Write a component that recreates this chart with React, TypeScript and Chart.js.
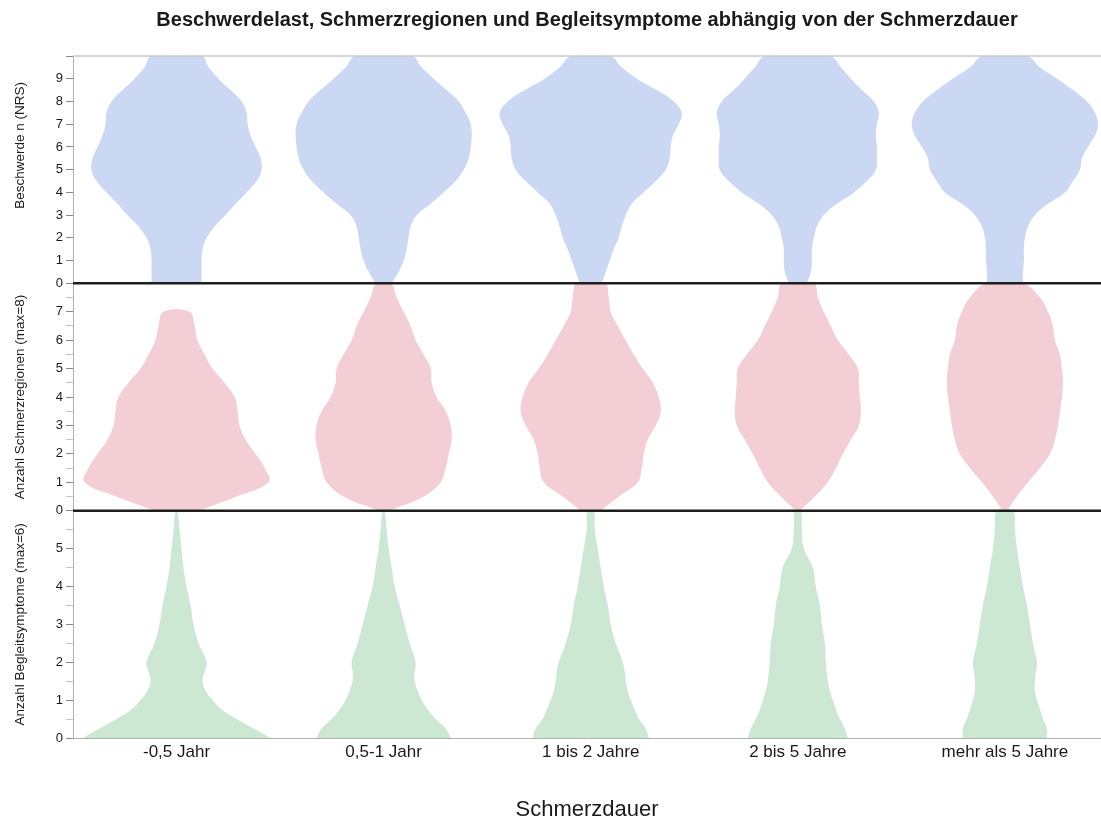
import React, { useEffect, useRef } from 'react';
import { Chart, registerables } from 'chart.js';

Chart.register(...registerables);

// ---------- data ----------
const CATEGORIES = ['-0,5 Jahr', '0,5-1 Jahr', '1 bis 2 Jahre', '2 bis 5 Jahre', 'mehr als 5 Jahre'];

const CHART_TITLE = 'Beschwerdelast, Schmerzregionen und Begleitsymptome abhängig von der Schmerzdauer';
const X_TITLE = 'Schmerzdauer';
const Y_TITLES = ['Beschwerde n (NRS)', 'Anzahl Schmerzregionen (max=8)', 'Anzahl Begleitsymptome (max=6)'];

// Panel 1: Beschwerden (NRS 0-10)
const NRS_LEVELS = [0, 0.5, 1, 1.5, 2, 2.5, 3, 3.5, 4, 4.5, 5, 5.5, 6, 6.5, 7, 7.5, 8, 8.5, 9, 9.5, 10];
const NRS_DENSITY_1 = [25, 25, 25, 26, 30, 38, 49, 59, 70, 80, 85, 84, 79, 74, 71, 70, 65, 54, 42, 32, 25];
const NRS_DENSITY_2 = [8, 15, 20, 23, 25, 27, 33, 47, 60, 72, 80, 85, 87, 88, 87, 82, 75, 63, 50, 38, 28];
const NRS_DENSITY_3 = [11, 15, 19, 23, 28, 31, 35, 41, 53, 65, 75, 79, 80, 82, 88, 91, 83, 66, 46, 31, 19];
const NRS_DENSITY_4 = [9, 13, 14, 14, 16, 19, 26, 39, 56, 69, 78, 79, 79, 78, 79, 81, 76, 64, 53, 43, 32];
const NRS_DENSITY_5 = [18, 18, 19, 19, 20, 23, 30, 43, 60, 68, 75, 77, 83, 90, 93, 90, 82, 68, 52, 35, 22];

// Panel 2: Anzahl Schmerzregionen (0-8)
const REG_LEVELS = [0, 0.5, 1, 1.5, 2, 2.5, 3, 3.5, 4, 4.5, 5, 5.5, 6, 6.5, 7, 7.5, 8];
const REG_DENSITY_1 = [22, 60, 92, 88, 79, 69, 63, 61, 58, 48, 36, 28, 21, 18, 13, null, null];
const REG_DENSITY_2 = [5, 40, 57, 62, 65, 68, 67, 62, 53, 48, 47, 40, 32, 27, 20, 13, 7];
const REG_DENSITY_3 = [10, 28, 47, 51, 53, 57, 65, 70, 68, 62, 52, 43, 35, 27, 20, 18, 14];
const REG_DENSITY_4 = [2, 17, 30, 38, 45, 53, 61, 63, 62, 61, 60, 51, 40, 33, 26, 20, 16];
const REG_DENSITY_5 = [2, 12, 23, 35, 45, 50, 53, 55, 57, 58, 57, 55, 50, 48, 43, 35, 18];

// Panel 3: Anzahl Begleitsymptome (0-6)
const SYM_LEVELS = [0, 0.25, 0.5, 0.75, 1, 1.25, 1.5, 1.75, 2, 2.5, 3, 3.5, 4, 4.5, 5, 5.5, 6];
const SYM_DENSITY_1 = [94, 77, 60, 45, 36, 29, 26, 28, 30, 22, 17, 14, 10, 7, 5, 3, 1];
const SYM_DENSITY_2 = [67, 62, 52, 44, 38, 34, 31, 31, 32, 26, 21, 16, 11, 8, 5, 3, 1];
const SYM_DENSITY_3 = [58, 55, 48, 44, 40, 37, 35, 34, 32, 25, 20, 17, 13, 10, 7, 4, 3];
const SYM_DENSITY_4 = [50, 47, 42, 38, 35, 32, 30, 29, 28, 27, 24, 22, 18, 15, 6, 4, 3];
const SYM_DENSITY_5 = [42, 42, 38, 35, 32, 30, 30, 31, 32, 28, 25, 22, 18, 15, 12, 10, 8];

// density units that correspond to one category step
const DENSITY_PER_CATEGORY = 207;

// ---------- styling ----------
const FONT = '"Liberation Sans", Arial, Helvetica, sans-serif';
const TEXT = '#1a1a1a';
const X_MIN = -0.5;
const X_MAX = 4.464;

const PANELS = [
  { id: 'y1', max: 10, step: 1, levels: NRS_LEVELS, color: 'rgba(203,216,244,1)', title: '\u0020'.repeat(13) + Y_TITLES[0],
    densities: [NRS_DENSITY_1, NRS_DENSITY_2, NRS_DENSITY_3, NRS_DENSITY_4, NRS_DENSITY_5] },
  { id: 'y2', max: 8, step: 0.5, levels: REG_LEVELS, color: 'rgba(243,206,212,1)', title: Y_TITLES[1],
    densities: [REG_DENSITY_1, REG_DENSITY_2, REG_DENSITY_3, REG_DENSITY_4, REG_DENSITY_5] },
  { id: 'y3', max: 6, step: 0.5, levels: SYM_LEVELS, color: 'rgba(204,232,211,1)', title: Y_TITLES[2],
    densities: [SYM_DENSITY_1, SYM_DENSITY_2, SYM_DENSITY_3, SYM_DENSITY_4, SYM_DENSITY_5] },
];

function violinPoints(center: number, levels: number[], widths: (number | null)[]) {
  const valid = levels
    .map((y, k) => ({ y, w: widths[k] }))
    .filter((p) => p.w !== null && p.w !== undefined) as { y: number; w: number }[];
  const right = valid.map((p) => ({ x: center + p.w / DENSITY_PER_CATEGORY, y: p.y }));
  const left = valid
    .slice()
    .reverse()
    .map((p) => ({ x: center - p.w / DENSITY_PER_CATEGORY, y: p.y }));
  return [...right, ...left];
}

function lineDataset(yAxisID: string, y: number, color: string, width: number) {
  return {
    data: [
      { x: X_MIN, y },
      { x: X_MAX, y },
    ],
    yAxisID,
    xAxisID: 'x',
    showLine: true,
    borderColor: color,
    borderWidth: width,
    pointRadius: 0,
    fill: false,
    clip: false as any,
  };
}

function yScale(panel: (typeof PANELS)[number]) {
  return {
    type: 'linear' as const,
    position: 'left' as const,
    stack: 'panels',
    stackWeight: 1,
    min: 0,
    max: panel.max,
    afterBuildTicks: (s: any) => {
      const t = [];
      for (let v = 0; v <= panel.max + 1e-9; v += panel.step) t.push({ value: Math.round(v * 10) / 10 });
      s.ticks = t;
    },
    afterFit: (s: any) => {
      s.width = 73;
    },
    ticks: {
      autoSkip: false,
      padding: 3,
      color: TEXT,
      font: { family: FONT, size: 13 },
      callback: (v: any) => (Number.isInteger(v) && v < panel.max ? String(v) : ''),
    },
    grid: {
      drawOnChartArea: false,
      tickLength: 7,
      tickColor: (ctx: any) => (ctx.tick && Number.isInteger(ctx.tick.value) ? '#8a8a8a' : '#c4c4c4'),
    },
    border: { color: '#b0b0b0', width: 1 },
    title: {
      display: true,
      text: panel.title,
      color: TEXT,
      font: { family: FONT, size: 13.5 },
      padding: { top: 12, bottom: 0 },
    },
  };
}

export default function App() {
  const canvasRef = useRef<HTMLCanvasElement | null>(null);

  useEffect(() => {
    document.body.style.margin = '0';
    const canvas = canvasRef.current;
    if (!canvas) return;

    const datasets: any[] = [
      lineDataset('y1', 0, '#1e1e1e', 2.5),
      lineDataset('y2', 0, '#1e1e1e', 2.5),
      lineDataset('y1', 10, '#c8c8c8', 1.5),
    ];

    PANELS.forEach((panel) => {
      panel.densities.forEach((dens, i) => {
        datasets.push({
          data: violinPoints(i, panel.levels, dens),
          yAxisID: panel.id,
          xAxisID: 'x',
          showLine: true,
          fill: 'shape',
          backgroundColor: panel.color,
          borderColor: 'rgba(0,0,0,0)',
          borderWidth: 0,
          pointRadius: 0,
          tension: 0.4,
        });
      });
    });

    const chart = new Chart(canvas, {
      type: 'scatter',
      data: { datasets },
      options: {
        responsive: false,
        animation: false,
        devicePixelRatio: 1,
        layout: { padding: 0 },
        plugins: {
          legend: { display: false },
          tooltip: { enabled: false },
          title: {
            display: true,
            text: CHART_TITLE,
            fullSize: false,
            color: TEXT,
            font: { family: FONT, size: 20, weight: 'bold' },
            padding: { top: 8, bottom: 24 },
          },
        },
        scales: {
          x: {
            type: 'linear',
            min: X_MIN,
            max: X_MAX,
            afterBuildTicks: (s: any) => {
              s.ticks = CATEGORIES.map((_, i) => ({ value: i }));
            },
            afterFit: (s: any) => {
              s.height = 80;
            },
            ticks: {
              autoSkip: false,
              maxRotation: 0,
              padding: 4,
              color: TEXT,
              font: { family: FONT, size: 17 },
              callback: (v: any) => CATEGORIES[v] ?? '',
            },
            grid: { drawOnChartArea: false, drawTicks: false },
            border: { color: '#b0b0b0', width: 1 },
            title: {
              display: true,
              text: X_TITLE,
              color: TEXT,
              font: { family: FONT, size: 22, lineHeight: 0.7 },
              padding: 0,
            },
          },
          y3: yScale(PANELS[2]),
          y2: yScale(PANELS[1]),
          y1: yScale(PANELS[0]),
        } as any,
      },
    });

    return () => chart.destroy();
  }, []);

  return (
    <div style={{ width: 1101, height: 818 }}>
      <canvas ref={canvasRef} width={1101} height={818} style={{ display: 'block' }} />
    </div>
  );
}
